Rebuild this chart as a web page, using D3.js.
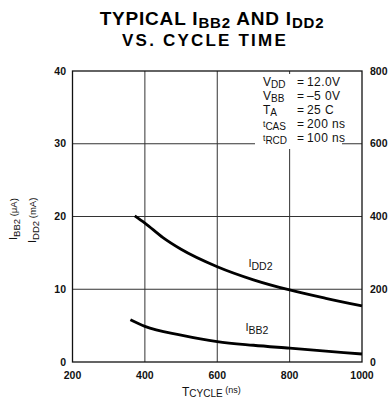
<!DOCTYPE html>
<html>
<head>
<meta charset="utf-8">
<script src="https://cdn.jsdelivr.net/npm/d3@7"></script>
<style>
  body { margin: 0; background: #fff; }
  svg { display: block; font-family: "Liberation Sans", Arial, sans-serif; }
</style>
</head>
<body>
<script>
// data
const xTicks = [200, 400, 600, 800, 1000];
const yTicksLeft = [0, 10, 20, 30, 40];
const yTicksRight = [0, 200, 400, 600, 800];

const iddTime = [372, 400, 450, 500, 600, 700, 800, 900, 1000];
const iddValue = [20.1, 19.1, 17.1, 15.5, 13.1, 11.3, 9.9, 8.75, 7.7];

const ibbTime = [360, 400, 500, 600, 700, 800, 900, 1000];
const ibbValue = [5.8, 4.9, 3.7, 2.8, 2.3, 1.9, 1.5, 1.1];

const conditions = [
  ["V", "DD", "12.0V"],
  ["V", "BB", "\u20135 0V"],
  ["T", "A", "25  C"],
  ["t", "CAS", "200 ns"],
  ["t", "RCD", "100 ns"]
];

const W = 388, H = 400;
const svg = d3.select("body").append("svg")
  .attr("width", W).attr("height", H);

const x = d3.scaleLinear().domain([200, 1000]).range([72.5, 362]);
const y = d3.scaleLinear().domain([0, 40]).range([362, 71]);
const yR = d3.scaleLinear().domain([0, 800]).range([362, 71]);

// parts: [text, fontSize, dy]
function subText(sel, parts) {
  parts.forEach(p => {
    const t = sel.append("tspan").text(p[0]).attr("font-size", p[1]);
    if (p[2]) t.attr("dy", p[2]);
  });
}

// title
const t1 = svg.append("text").attr("x", 212).attr("y", 25)
  .attr("text-anchor", "middle").attr("font-weight", "bold")
  .attr("letter-spacing", 0.8);
subText(t1, [["TYPICAL I", 19], ["BB2", 15, 3], [" AND I", 19, -3], ["DD2", 15, 3]]);
svg.append("text").attr("x", 205).attr("y", 46)
  .attr("text-anchor", "middle").attr("font-weight", "bold")
  .attr("font-size", 17).attr("letter-spacing", 2.2)
  .text("VS. CYCLE TIME");

// grid
const grid = svg.append("g").attr("stroke", "#333").attr("stroke-width", 1);
grid.selectAll("line.h").data([10, 20, 30]).join("line")
  .attr("x1", x(200)).attr("x2", x(1000))
  .attr("y1", d => y(d)).attr("y2", d => y(d));
grid.selectAll("line.v").data([400, 600, 800]).join("line")
  .attr("x1", d => x(d)).attr("x2", d => x(d))
  .attr("y1", y(40)).attr("y2", y(0));

// mask behind the conditions block
svg.append("rect").attr("x", 255).attr("y", 74)
  .attr("width", 87).attr("height", 75).attr("fill", "#fff");

// frame
svg.append("rect").attr("x", x(200)).attr("y", y(40))
  .attr("width", x(1000) - x(200)).attr("height", y(0) - y(40))
  .attr("fill", "none").attr("stroke", "#111").attr("stroke-width", 1.3);

// tick labels
const tick = svg.append("g").attr("font-size", 10.5).attr("font-weight", "bold").attr("fill", "#111");
tick.selectAll("text.l").data(yTicksLeft).join("text")
  .attr("x", 66).attr("y", d => y(d) + 3.5).attr("text-anchor", "end").text(d => d);
tick.selectAll("text.r").data(yTicksRight).join("text")
  .attr("x", 370).attr("y", d => yR(d) + 3.5).text(d => d);
tick.selectAll("text.b").data(xTicks).join("text")
  .attr("x", d => x(d)).attr("y", 379).attr("text-anchor", "middle").text(d => d);

// curves
const line = d3.line().x(d => x(d[0])).y(d => y(d[1])).curve(d3.curveMonotoneX);
svg.append("path").datum(d3.zip(iddTime, iddValue)).attr("d", line)
  .attr("fill", "none").attr("stroke", "#000").attr("stroke-width", 2.8);
svg.append("path").datum(d3.zip(ibbTime, ibbValue)).attr("d", line)
  .attr("fill", "none").attr("stroke", "#000").attr("stroke-width", 2.8);

// curve labels
const lab = svg.append("g").attr("fill", "#111");
const l1 = lab.append("text").attr("x", x(700) - 5).attr("y", 267);
subText(l1, [["I", 11], ["DD2", 10.5, 3]]);
const l2 = lab.append("text").attr("x", x(700) - 8).attr("y", 331);
subText(l2, [["I", 11], ["BB2", 10.5, 3]]);

// conditions
const cond = svg.append("g").attr("fill", "#111");
conditions.forEach((c, i) => {
  const yy = 86 + i * 14;
  const small = c[0] === "t";
  const a = cond.append("text").attr("x", 263).attr("y", yy);
  subText(a, [[c[0], small ? 8.5 : 12, small ? -1 : 0], [c[1], 10, small ? 3 : 2]]);
  cond.append("text").attr("x", 297).attr("y", yy).attr("font-size", 12).text("=");
  cond.append("text").attr("x", 307).attr("y", yy).attr("font-size", 12)
    .attr("letter-spacing", 0.4).text(c[2]);
});

// axis titles
const yl = svg.append("g").attr("fill", "#111");
const ya = yl.append("text").attr("transform", "translate(17,240) rotate(-90)");
subText(ya, [["I", 11], ["BB2", 9.5, 3], [" (\u03bcA)", 9.5, -3]]);
const yb = yl.append("text").attr("transform", "translate(36,243) rotate(-90)");
subText(yb, [["I", 11], ["DD2", 9.5, 3], [" (mA)", 9.5, -3]]);

const xl = svg.append("text").attr("x", 182).attr("y", 396).attr("fill", "#111");
subText(xl, [["T", 12], ["CYCLE", 10, 1], [" (ns)", 9, -4]]);
</script>
</body>
</html>
